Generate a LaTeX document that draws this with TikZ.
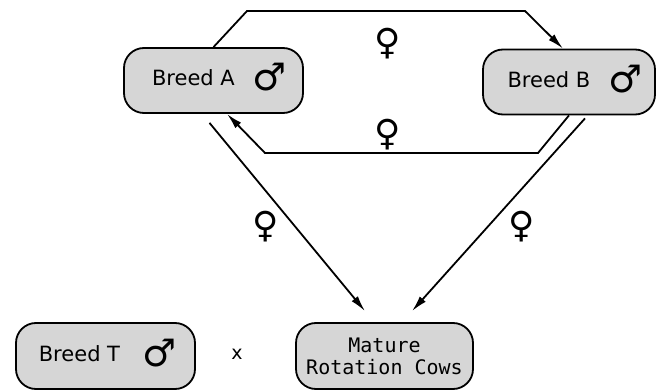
\documentclass[tikz,border=0pt]{standalone}
\usepackage{fontspec}
\setmainfont{DejaVu Sans}
\newfontfamily\monof{DejaVu Sans Mono}
\usetikzlibrary{arrows.meta}
\tikzset{
  breedbox/.style={draw=black, line width=1.8pt, fill=black!16, rounded corners=20pt,
    minimum width=179pt, minimum height=65pt, inner sep=0pt,
    font=\fontsize{21}{24}\selectfont},
  conn/.style={line width=1.8pt, -{Latex[length=16pt,width=8pt]}},
  sym/.style={font=\fontsize{36}{36}\selectfont, inner sep=0pt},
}
\newcommand{\malesym}{\raisebox{-5pt}{\smash{\fontsize{38}{38}\selectfont ♂}}}
\begin{document}
\begin{tikzpicture}[x=1pt,y=-1pt]
\useasboundingbox (0,0) rectangle (664,390);
\node[breedbox] (A) at (213.5,80.5) {\hspace*{12pt}Breed A\hspace{18pt}\malesym};
\node[breedbox, minimum width=172pt] (B) at (569,82) {\hspace*{12pt}Breed B\hspace{18pt}\malesym};
\node[breedbox, minimum height=66pt] (T) at (105.5,356) {\hspace*{4pt}Breed T\hspace{22pt}\malesym};
\node[breedbox, minimum width=177pt, minimum height=66pt, align=center,
  font=\monof\fontsize{20}{22}\selectfont] (M) at (384.5,356) {Mature\\Rotation Cows};
\node[font=\fontsize{19}{20}\selectfont, inner sep=0pt] (x) at (237,354) {x};
\node[sym] (f1) at (388,44) {♀};
\node[sym] (f2) at (388,135) {♀};
\node[sym] (f3) at (266,227) {♀};
\node[sym] (f4) at (522,227) {♀};
\draw[conn] (A.north) -- (247,11) -- (525,11) -- ([xshift=-6pt]B.north);
\draw[conn] (B.south) -- (538,153) -- (265,153) -- ([xshift=13.5pt]A.south);
\draw[conn] ([xshift=-4pt,yshift=-9pt]A.south) -- ([xshift=-19.5pt,yshift=11pt]M.north);
\draw[conn] ([xshift=16pt,yshift=-3pt]B.south) -- ([xshift=27.5pt,yshift=11pt]M.north);
\end{tikzpicture}
\end{document}
